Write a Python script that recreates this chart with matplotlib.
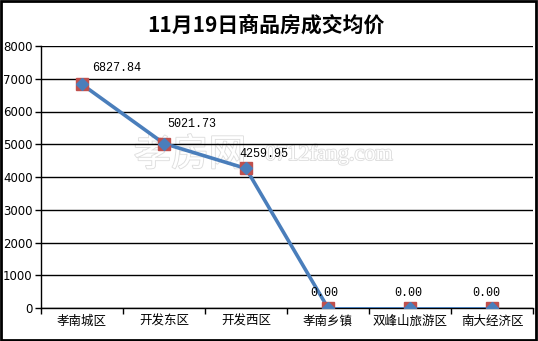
import matplotlib.pyplot as plt
import matplotlib.patheffects as pe
from matplotlib.patches import Rectangle

plt.rcParams['font.family'] = ['Noto Sans CJK SC', 'DejaVu Sans']

districts = ['孝南城区', '开发东区', '开发西区', '孝南乡镇', '双峰山旅游区', '南大经济区']
prices = [6827.84, 5021.73, 4259.95, 0.00, 0.00, 0.00]
y_ticks = [0, 1000, 2000, 3000, 4000, 5000, 6000, 7000, 8000]

line_blue = '#4a7ebb'
mark_red = '#c0504d'

fig = plt.figure(figsize=(5.38, 3.41), dpi=100)
ax = fig.add_axes([41 / 538, 1 - 308 / 341, 492 / 538, 262 / 341])
ax.set_facecolor('none')

# watermark (hollow letters), kept behind the axes
wm = [pe.withStroke(linewidth=1.3, foreground='#dedede')]
fig.text(190 / 538, 1 - 155 / 341, '孝房网', ha='center', va='center', fontsize=27,
         color='white', path_effects=wm, zorder=-1)
fig.text(329 / 538, 1 - 155 / 341, '0712fang.com', ha='center', va='center', fontsize=16,
         family='Liberation Serif', color='white', path_effects=wm, zorder=-1)

# thick segment for the first part, thin for the flat part
xs = [i + 0.5 for i in range(len(districts))]
ax.plot(xs[:4], prices[:4], color=line_blue, lw=2.6, zorder=3)
ax.plot(xs[3:], prices[3:], color=line_blue, lw=1.4, zorder=3)
ax.plot(xs, prices, ls='none', marker='s', ms=8, mfc=mark_red, mec=mark_red, zorder=4)
ax.plot(xs, prices, ls='none', marker='D', ms=6, mfc=line_blue, mec=line_blue, zorder=5)

offsets = [(35, 16), (28, 20), (18, 14), (-4, 15), (-2, 15), (-6, 15)]
for x, v, off in zip(xs, prices, offsets):
    ax.annotate('%.2f' % v, (x, v), xytext=off, textcoords='offset pixels',
                ha='center', va='center', fontsize=8.5, family='Liberation Mono', zorder=6)

ax.set_xlim(0, len(districts))
ax.set_ylim(0, 8000)
ax.set_yticks(y_ticks)
ax.set_yticklabels([str(t) for t in y_ticks], fontsize=8.5, family='DejaVu Sans')
ax.set_xticks(range(len(districts) + 1))
ax.set_xticklabels([])
ax.set_xticks(xs, minor=True)
ax.set_xticklabels(districts, minor=True, fontsize=9)
ax.tick_params(axis='x', which='minor', length=0, pad=5)
ax.tick_params(axis='x', which='major', direction='out', length=4, width=1, color='black')
ax.tick_params(axis='y', direction='out', length=4, width=1, pad=2)
ax.grid(axis='y', color='black', lw=1)
for side in ['top', 'right']:
    ax.spines[side].set_visible(False)
for side in ['left', 'bottom']:
    ax.spines[side].set_linewidth(1)

fig.text(266 / 538, 1 - 25 / 341, '11月19日商品房成交均价', ha='center', va='center',
         fontsize=15, fontweight='bold')

fig.patches.append(Rectangle((0.002, 0.003), 0.994, 0.993, transform=fig.transFigure,
                             fill=False, edgecolor='black', lw=2))

fig.savefig('out.png', dpi=100)
